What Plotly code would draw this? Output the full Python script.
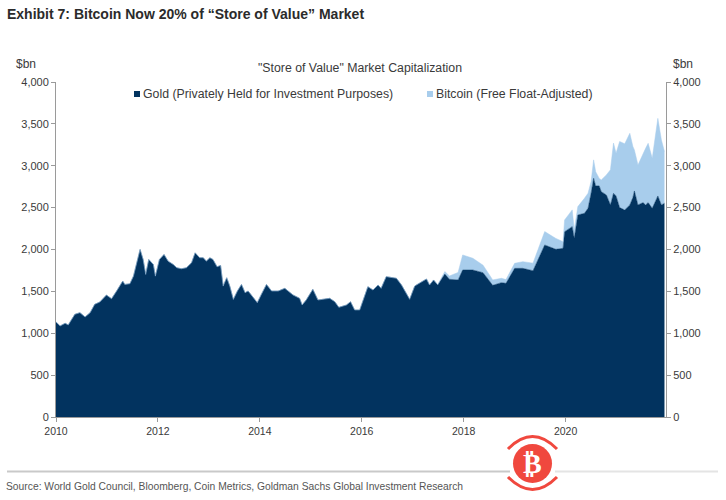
import plotly.graph_objects as go

# Values, $bn
years = [
    2010.00, 2010.08, 2010.18, 2010.24, 2010.37, 2010.47, 2010.57, 2010.67, 2010.76, 2010.86, 2010.99,
    2011.09, 2011.19, 2011.31, 2011.35, 2011.45, 2011.52, 2011.58, 2011.65, 2011.71, 2011.76, 2011.82,
    2011.88, 2011.91, 2011.95, 2012.03, 2012.12, 2012.20, 2012.30, 2012.37, 2012.46, 2012.56, 2012.66,
    2012.73, 2012.82, 2012.89, 2012.95, 2013.02, 2013.08, 2013.16, 2013.23, 2013.28, 2013.35, 2013.41,
    2013.48, 2013.56, 2013.64, 2013.71, 2013.77, 2013.87, 2013.95, 2014.03, 2014.13, 2014.23, 2014.36,
    2014.49, 2014.65, 2014.78, 2014.83, 2014.91, 2015.04, 2015.14, 2015.37, 2015.47, 2015.55, 2015.70,
    2015.78, 2015.86, 2015.96, 2016.12, 2016.22, 2016.32, 2016.38, 2016.48, 2016.68, 2016.78, 2016.94,
    2017.04, 2017.20, 2017.27, 2017.33, 2017.41, 2017.49, 2017.63, 2017.72, 2017.89, 2017.98, 2018.18,
    2018.38, 2018.57, 2018.74, 2018.83, 2019.00, 2019.16, 2019.36, 2019.59, 2019.81, 2019.95, 2019.98,
    2020.13, 2020.17, 2020.24, 2020.37, 2020.44, 2020.50, 2020.55, 2020.59, 2020.66, 2020.70, 2020.80,
    2020.88, 2020.94, 2020.99, 2021.06, 2021.16, 2021.26, 2021.32, 2021.35, 2021.42, 2021.52, 2021.57,
    2021.62, 2021.70, 2021.81, 2021.88, 2021.94,
]
gold = [
    1135, 1087, 1119, 1099, 1226, 1246, 1194, 1246, 1345, 1373, 1456,
    1412, 1504, 1623, 1583, 1591, 1682, 1841, 2000, 1881, 1702, 1881,
    1841, 1821, 1682, 1881, 1940, 1861, 1821, 1782, 1770, 1782, 1841,
    1960, 1901, 1901, 1861, 1901, 1881, 1794, 1809, 1563, 1663, 1563,
    1404, 1504, 1583, 1484, 1504, 1424, 1365, 1464, 1583, 1504, 1504,
    1536, 1457, 1417, 1337, 1397, 1524, 1397, 1417, 1377, 1309, 1337,
    1377, 1278, 1278, 1556, 1516, 1576, 1536, 1676, 1656, 1576, 1405,
    1564, 1616, 1648, 1576, 1636, 1576, 1707, 1644, 1636, 1755, 1755,
    1723, 1572, 1604, 1596, 1775, 1775, 1747, 2054, 2002, 2014, 2213,
    2273, 2134, 2412, 2432, 2492, 2671, 2850, 2759, 2759, 2691, 2651,
    2532, 2671, 2640, 2500, 2472, 2532, 2620, 2699, 2532, 2560, 2532,
    2560, 2492, 2639, 2532, 2552,
]
bitcoin = [
    0, 0, 0, 0, 0, 0, 0, 0, 0, 0, 0,
    0, 0, 0, 0, 0, 0, 0, 0, 0, 0, 0,
    0, 0, 0, 0, 0, 0, 0, 0, 0, 0, 0,
    0, 0, 0, 0, 0, 0, 0, 0, 0, 0, 0,
    0, 0, 0, 0, 0, 0, 0, 0, 0, 0, 0,
    0, 0, 0, 0, 0, 0, 0, 0, 0, 0, 0,
    0, 0, 0, 0, 0, 0, 0, 0, 0, 0, 0,
    0, 0, 0, 0, 0, 5, 30, 40, 90, 180, 140,
    90, 65, 52, 45, 60, 80, 90, 160, 130, 80, 140,
    200, 100, 100, 180, 180, 140, 220, 170, 90, 140, 240,
    420, 600, 510, 790, 790, 855, 610, 490, 477, 590, 676,
    708, 597, 927, 776, 617,
]
x_ticks = [2010, 2012, 2014, 2016, 2018, 2020]
y_ticks = [0, 500, 1000, 1500, 2000, 2500, 3000, 3500, 4000]

W, H = 726, 500
FONT = "Liberation Sans"
TEXT = "#3a3a3a"
AXIS = "#9a9a9a"
RED = "#f0483e"


def px(x):
    return x / W


def py(y):
    return 1 - y / H


fig = go.Figure()
fig.add_trace(go.Scatter(x=years, y=gold, mode="lines", stackgroup="one",
                         line=dict(width=0.5, color="#02335f"), fillcolor="#02335f"))
fig.add_trace(go.Scatter(x=years, y=bitcoin, mode="lines", stackgroup="one",
                         line=dict(width=0.5, color="#a8cdec"), fillcolor="#a8cdec"))
# invisible trace so the right hand axis exists
fig.add_trace(go.Scatter(x=years, y=gold, yaxis="y2", mode="lines", opacity=0, hoverinfo="skip"))

y_axis = dict(range=[0, 4000], tickvals=y_ticks, tickformat=",", ticks="outside", ticklen=4,
              tickcolor=AXIS, linecolor=AXIS, linewidth=1, showline=True, showgrid=False,
              zeroline=False, automargin=False, tickfont=dict(family=FONT, size=11, color=TEXT),
              domain=[py(417), py(82)])

fig.update_layout(
    width=W, height=H, showlegend=False, paper_bgcolor="white", plot_bgcolor="white",
    margin=dict(l=0, r=0, t=0, b=0),
    xaxis=dict(range=[2010, 2021.97], tickvals=x_ticks, ticks="outside", ticklen=4,
               tickcolor=AXIS, linecolor=AXIS, showline=True, showgrid=False, zeroline=False,
               automargin=False, tickfont=dict(family=FONT, size=10.5, color=TEXT),
               domain=[px(56), px(666)]),
    yaxis=y_axis,
    yaxis2=dict(y_axis, overlaying="y", side="right", anchor="x"),
)


def label(x, y, text, size=11, color=TEXT, family=FONT, anchor="left"):
    fig.add_annotation(x=px(x), y=py(y), xref="paper", yref="paper", text=text, showarrow=False,
                       xanchor=anchor, yanchor="middle", align="left",
                       font=dict(family=family, size=size, color=color))


label(5, 14, "<b>Exhibit 7: Bitcoin Now 20% of “Store of Value” Market</b>", size=14, color="#2b2b2b")
label(14, 64, "$bn", size=12)
label(671, 64, "$bn", size=12)
label(360, 68, "\"Store of Value\" Market Capitalization", size=12.3, anchor="center")
label(141, 94, "Gold (Privately Held for Investment Purposes)", size=12.3)
label(434, 94, "Bitcoin (Free Float-Adjusted)", size=12.3)
label(4, 486, "Source: World Gold Council, Bloomberg, Coin Metrics, Goldman Sachs Global Investment Research",
      size=10.3, color="#555555")

# legend swatches, footer rule, watermark
fig.add_shape(type="rect", xref="paper", yref="paper", x0=px(134), x1=px(140), y0=py(97), y1=py(91),
              fillcolor="#02335f", line_width=0)
fig.add_shape(type="rect", xref="paper", yref="paper", x0=px(427), x1=px(433), y0=py(97), y1=py(91),
              fillcolor="#a8cdec", line_width=0)
fig.add_shape(type="line", xref="paper", yref="paper", x0=px(7), x1=px(510), y0=py(471.5), y1=py(471.5),
              line=dict(color="#c9c9c9", width=2))
fig.add_shape(type="line", xref="paper", yref="paper", x0=px(555), x1=px(718), y0=py(471.5), y1=py(471.5),
              line=dict(color="#e4e4e4", width=2))
fig.add_shape(type="circle", xref="paper", yref="paper", x0=px(513), x1=px(552), y0=py(483), y1=py(444),
              fillcolor=RED, line_width=0)
for y_end, y_ctrl in [(449, 424), (477, 502)]:
    fig.add_shape(type="path", xref="paper", yref="paper", line=dict(color=RED, width=3),
                  path=f"M {px(508)} {py(y_end)} Q {px(532.5)} {py(y_ctrl)} {px(557)} {py(y_end)}")
label(532.5, 463, "<b>₿</b>", size=28, color="white", family="DejaVu Sans", anchor="center")

# the page's default body margin would push the chart 8px down and right
fig.write_html("out.html", config={"displayModeBar": False},
               post_script="document.body.style.margin = '0';")
